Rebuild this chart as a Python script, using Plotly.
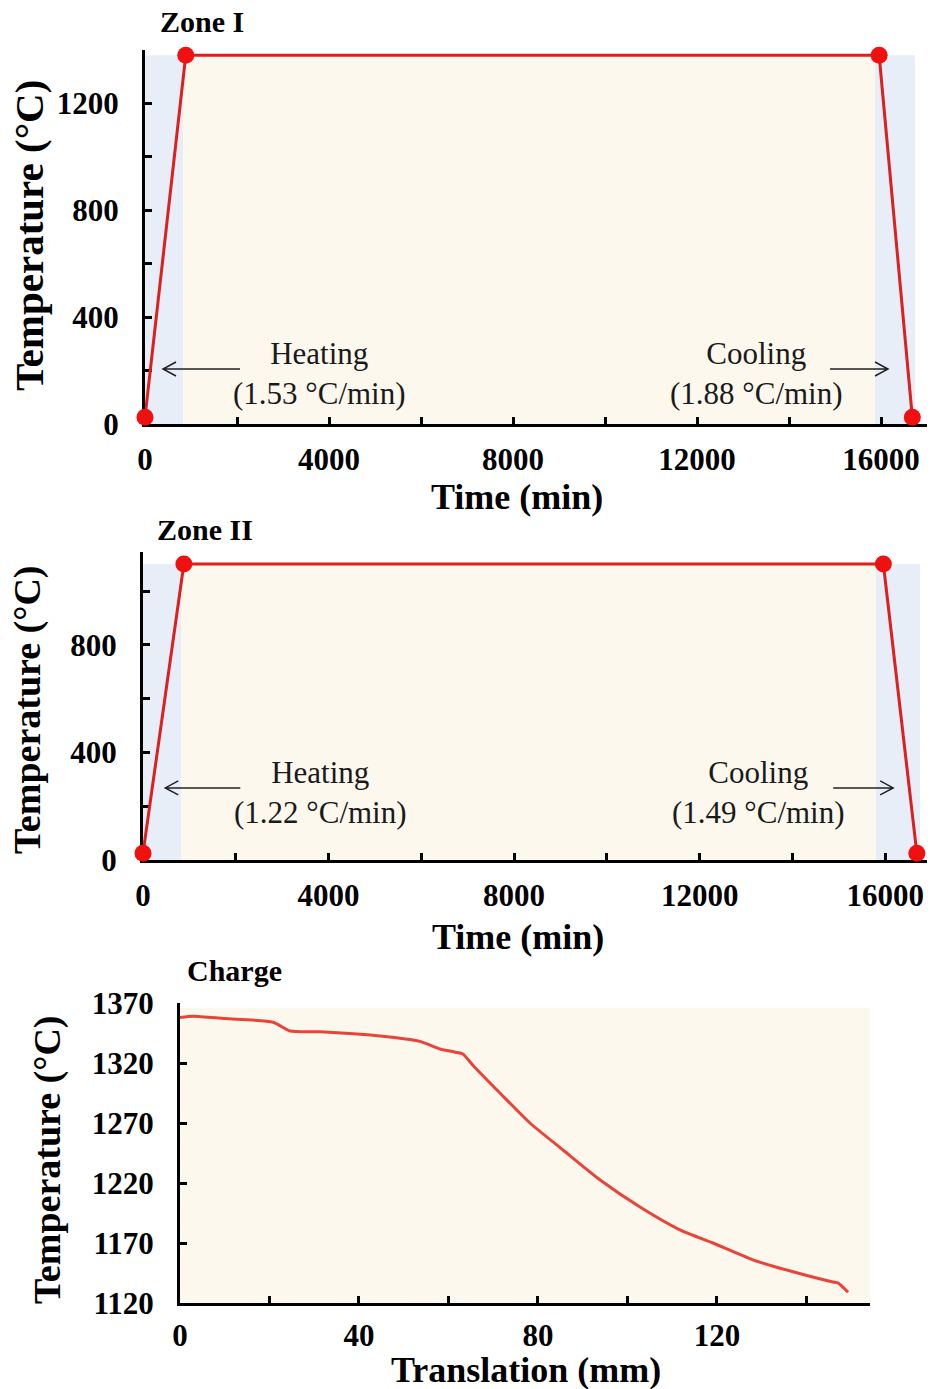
import plotly.graph_objects as go

# ---- data -------------------------------------------------------------
zone1_time = [0, 886, 15960, 16681]          # min
zone1_temp = [25, 1380, 1380, 25]            # degC
zone2_time = [0, 881, 15960, 16681]
zone2_temp = [25, 1100, 1100, 25]

# shaded phases: heating / holding / cooling (min)
zone1_phase_edges = [0, 830, 15870, 16740]
zone2_phase_edges = [0, 830, 15800, 16750]

charge_pos = [0, 3, 10, 20.8, 24.6, 31.3, 44.7, 53.6, 58.1, 61.5, 63.2,
              65.5, 71.5, 78.2, 85.6, 93.9, 102.8, 111.7, 119.1, 128.0,
              137.0, 145.9, 147.0, 149.3]                       # mm
charge_temp = [1358, 1359, 1357, 1354, 1346.7, 1346, 1342.5, 1338, 1331.7,
               1329, 1327.5, 1318, 1295, 1270, 1247.5, 1222.5, 1200, 1181,
               1170, 1156, 1146, 1137.5, 1136.7, 1129]          # degC

heat_rates = ["1.53", "1.22"]
cool_rates = ["1.88", "1.49"]

# ---- styling ----------------------------------------------------------
W, H = 931, 1389
SERIF = "Liberation Serif, Times New Roman, serif"
RED = "#dc1f1f"
DOT = "#f01010"
BLUE_BG = "#e7eef8"
CREAM_BG = "#fdf8ee"


def fx(px):
    return px / W


def fy(py):
    return 1 - py / H


fig = go.Figure()

fig.add_trace(go.Scatter(x=zone1_time, y=zone1_temp, mode="lines+markers",
                         line=dict(color=RED, width=3),
                         marker=dict(color=DOT, size=17),
                         cliponaxis=False, xaxis="x", yaxis="y",
                         showlegend=False))
fig.add_trace(go.Scatter(x=zone2_time, y=zone2_temp, mode="lines+markers",
                         line=dict(color=RED, width=3),
                         marker=dict(color=DOT, size=17),
                         cliponaxis=False, xaxis="x2", yaxis="y2",
                         showlegend=False))
fig.add_trace(go.Scatter(x=charge_pos, y=charge_temp, mode="lines",
                         line=dict(color="#e8443a", width=3, shape="spline",
                                   smoothing=0.6),
                         xaxis="x3", yaxis="y3", showlegend=False))

shapes = []
for xr, yr, edges, top in [("x", "y", zone1_phase_edges, zone1_temp[1]),
                           ("x2", "y2", zone2_phase_edges, zone2_temp[1])]:
    fills = [BLUE_BG, CREAM_BG, BLUE_BG]
    for i in range(3):
        shapes.append(dict(type="rect", xref=xr, yref=yr, layer="below",
                           x0=edges[i], x1=edges[i + 1], y0=0, y1=top,
                           fillcolor=fills[i], line=dict(width=0)))
shapes.append(dict(type="rect", xref="x3", yref="y3", layer="below",
                   x0=0, x1=155, y0=1120, y1=1366,
                   fillcolor=CREAM_BG, line=dict(width=0)))


def arrow(xr, yr, tx, ty, length, left):
    s = 1 if left else -1
    path = (f"M {s*length},0 L 0,0 M {s*13},7 L 0,0 L {s*13},-7")
    return dict(type="path", xref=xr, yref=yr, xsizemode="pixel",
                ysizemode="pixel", xanchor=tx, yanchor=ty, path=path,
                line=dict(color="#222222", width=1.5))


shapes += [arrow("x", "y", 391, 206, 77, True),
           arrow("x", "y", 16152, 206, 58, False),
           arrow("x2", "y2", 480, 268, 75, True),
           arrow("x2", "y2", 16171, 268, 60, False)]

ann = []
note_font = dict(family=SERIF, size=31, color="#1a1a1a")
for xr, yr, hx, cx, ty, hr, cr in [("x", "y", 3800, 13283, 190, heat_rates[0], cool_rates[0]),
                                   ("x2", "y2", 3830, 13260, 252, heat_rates[1], cool_rates[1])]:
    ann.append(dict(x=hx, y=ty, xref=xr, yref=yr, showarrow=False,
                    text=f"Heating<br>({hr} °C/min)", font=note_font,
                    align="center"))
    ann.append(dict(x=cx, y=ty, xref=xr, yref=yr, showarrow=False,
                    text=f"Cooling<br>({cr} °C/min)", font=note_font,
                    align="center"))

title_font = dict(family=SERIF, size=30, color="black", weight="bold")
axis_title_font = dict(family=SERIF, size=36, color="black", weight="bold")

for txt, px, py in [("Zone I", 158, 22), ("Zone II", 155, 530), ("Charge", 185, 970)]:
    ann.append(dict(x=fx(px), y=fy(py), xref="paper", yref="paper",
                    xanchor="left", yanchor="middle", showarrow=False,
                    text=txt, font=title_font))

for txt, px, py in [("Time (min)", 517, 497), ("Time (min)", 518, 937),
                    ("Translation (mm)", 526, 1370)]:
    ann.append(dict(x=fx(px), y=fy(py), xref="paper", yref="paper",
                    xanchor="center", yanchor="middle", showarrow=False,
                    text=txt, font=axis_title_font))

for px, py, size in [(29, 236, 41), (27, 710, 38), (47, 1160, 38)]:
    ann.append(dict(x=fx(px), y=fy(py), xref="paper", yref="paper",
                    xanchor="center", yanchor="middle", showarrow=False,
                    text="Temperature (°C)", textangle=-90,
                    font=dict(family=SERIF, size=size, color="black",
                              weight="bold")))

tick_font = dict(family=SERIF, size=31, color="black", weight="bold")


def axis_style(**kw):
    d = dict(showline=True, linecolor="black", linewidth=3, mirror=False,
             ticks="inside", ticklen=7, tickwidth=2.5, tickcolor="black",
             showgrid=False, zeroline=False, tickfont=tick_font,
             tickformat="d", automargin=False, layer="below traces")
    d.update(kw)
    return d


def minor(step):
    return dict(dtick=step, ticks="inside", ticklen=7, tickwidth=2.5,
                tickcolor="black", showgrid=False)


fig.update_layout(
    width=W, height=H, margin=dict(l=0, r=0, t=0, b=0, autoexpand=False),
    paper_bgcolor="white", plot_bgcolor="rgba(0,0,0,0)",
    showlegend=False, shapes=shapes, annotations=ann,
    xaxis=axis_style(domain=[fx(145), fx(927)], range=[0, 17000],
                     dtick=4000, tick0=0, minor=minor(2000), anchor="y",
                     ticklabelstandoff=6),
    yaxis=axis_style(domain=[fy(424), fy(50)], range=[0, 1400],
                     dtick=400, tick0=0, minor=minor(200), anchor="x",
                     ticklabelstandoff=17),
    xaxis2=axis_style(domain=[fx(143), fx(927)], range=[0, 16900],
                      dtick=4000, tick0=0, minor=minor(2000), anchor="y2",
                      ticklabelstandoff=6),
    yaxis2=axis_style(domain=[fy(860), fy(552)], range=[0, 1145],
                      dtick=400, tick0=0, minor=minor(200), anchor="x2",
                      ticklabelstandoff=17),
    xaxis3=axis_style(domain=[fx(180), fx(870)], range=[0, 154.2],
                      dtick=40, tick0=0, minor=minor(20), anchor="y3",
                      ticklabelstandoff=3),
    yaxis3=axis_style(domain=[fy(1303), fy(1003)], range=[1120, 1370],
                      dtick=50, tick0=1120, anchor="x3",
                      ticklabelstandoff=17),
)

fig.write_html("out.html")
